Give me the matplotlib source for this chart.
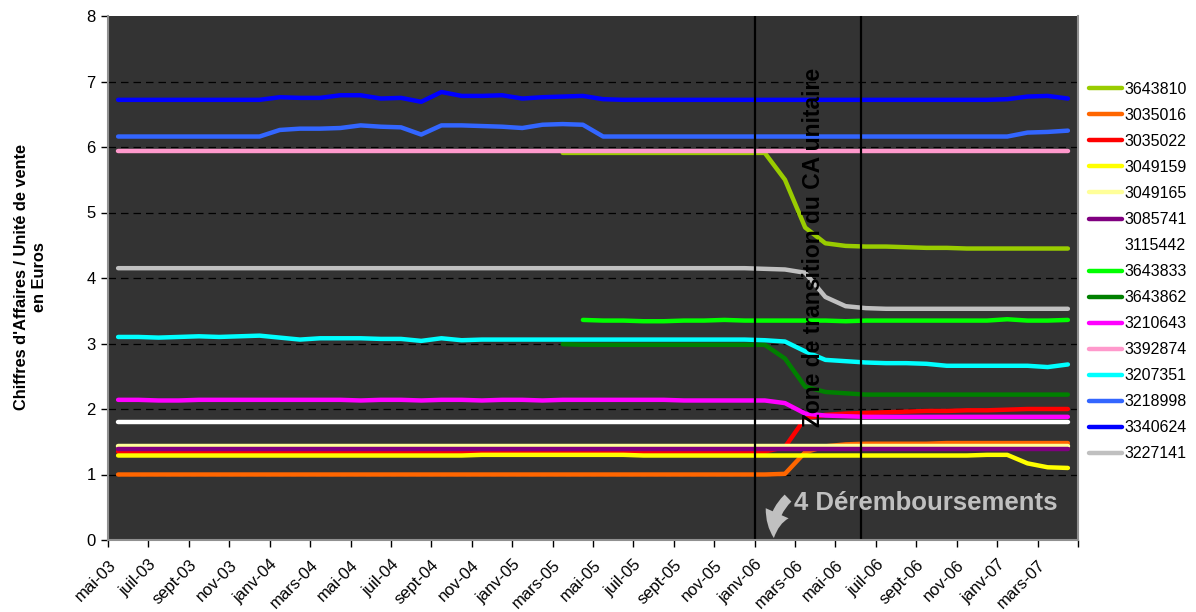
import numpy as np
import matplotlib.pyplot as plt
from matplotlib.ticker import FixedLocator, NullFormatter
from matplotlib.transforms import ScaledTranslation

plt.rcParams['font.family'] = ['Liberation Sans', 'DejaVu Sans']

# 48 mois, de mai-03 a avr-07 ; une etiquette sur deux
nb_mois = 48
etiquettes = ['mai-03', 'juil-03', 'sept-03', 'nov-03', 'janv-04', 'mars-04',
              'mai-04', 'juil-04', 'sept-04', 'nov-04', 'janv-05', 'mars-05',
              'mai-05', 'juil-05', 'sept-05', 'nov-05', 'janv-06', 'mars-06',
              'mai-06', 'juil-06', 'sept-06', 'nov-06', 'janv-07', 'mars-07']

cip = ['3643810', '3035016', '3035022', '3049159', '3049165', '3085741',
       '3115442', '3643833', '3643862', '3210643', '3392874', '3207351',
       '3218998', '3340624', '3227141']

couleurs = ['#99CC00', '#FF6600', '#FF0000', '#FFFF00', '#FFFF99', '#800080',
            '#FFFFFF', '#00FF00', '#008000', '#FF00FF', '#FF99CC', '#00FFFF',
            '#3366FF', '#0000FF', '#C0C0C0']

v_3643810 = [None, None, None, None, None, None, None, None, None, None, None, None,
             None, None, None, None, None, None, None, None, None, None, 5.91, 5.91,
             5.91, 5.91, 5.91, 5.91, 5.91, 5.91, 5.91, 5.91, 5.91, 5.50, 4.77, 4.53,
             4.49, 4.48, 4.48, 4.47, 4.46, 4.46, 4.45, 4.45, 4.45, 4.45, 4.45, 4.45]
v_3035016 = [1.00, 1.00, 1.00, 1.00, 1.00, 1.00, 1.00, 1.00, 1.00, 1.00, 1.00, 1.00,
             1.00, 1.00, 1.00, 1.00, 1.00, 1.00, 1.00, 1.00, 1.00, 1.00, 1.00, 1.00,
             1.00, 1.00, 1.00, 1.00, 1.00, 1.00, 1.00, 1.00, 1.00, 1.01, 1.34, 1.43,
             1.46, 1.47, 1.47, 1.47, 1.47, 1.48, 1.48, 1.48, 1.48, 1.48, 1.48, 1.48]
v_3035022 = [1.35, 1.35, 1.35, 1.35, 1.35, 1.35, 1.35, 1.35, 1.35, 1.35, 1.35, 1.35,
             1.35, 1.35, 1.35, 1.35, 1.35, 1.35, 1.35, 1.35, 1.35, 1.35, 1.35, 1.35,
             1.35, 1.35, 1.35, 1.35, 1.35, 1.35, 1.35, 1.35, 1.35, 1.42, 1.86, 1.91,
             1.93, 1.94, 1.95, 1.96, 1.97, 1.97, 1.98, 1.98, 1.99, 2.00, 2.00, 2.00]
v_3049159 = [1.29, 1.29, 1.29, 1.29, 1.29, 1.29, 1.29, 1.29, 1.29, 1.29, 1.29, 1.29,
             1.29, 1.29, 1.29, 1.29, 1.29, 1.29, 1.30, 1.30, 1.30, 1.30, 1.30, 1.30,
             1.30, 1.30, 1.29, 1.29, 1.29, 1.29, 1.29, 1.29, 1.29, 1.29, 1.29, 1.29,
             1.29, 1.29, 1.29, 1.29, 1.29, 1.29, 1.29, 1.30, 1.30, 1.17, 1.11, 1.10]
v_3049165 = [1.44, 1.44, 1.44, 1.44, 1.44, 1.44, 1.44, 1.44, 1.44, 1.44, 1.44, 1.44,
             1.44, 1.44, 1.44, 1.44, 1.44, 1.44, 1.44, 1.44, 1.44, 1.44, 1.44, 1.44,
             1.44, 1.44, 1.44, 1.44, 1.44, 1.44, 1.44, 1.44, 1.44, 1.44, 1.44, 1.44,
             1.44, 1.44, 1.44, 1.44, 1.44, 1.44, 1.44, 1.44, 1.44, 1.44, 1.44, 1.44]
v_3085741 = [1.39, 1.39, 1.39, 1.39, 1.39, 1.39, 1.39, 1.39, 1.39, 1.39, 1.39, 1.39,
             1.39, 1.39, 1.39, 1.39, 1.39, 1.39, 1.39, 1.39, 1.39, 1.39, 1.39, 1.39,
             1.39, 1.39, 1.39, 1.39, 1.39, 1.39, 1.39, 1.39, 1.39, 1.39, 1.39, 1.39,
             1.39, 1.39, 1.39, 1.39, 1.39, 1.39, 1.39, 1.39, 1.39, 1.39, 1.39, 1.39]
v_3115442 = [1.80, 1.80, 1.80, 1.80, 1.80, 1.80, 1.80, 1.80, 1.80, 1.80, 1.80, 1.80,
             1.80, 1.80, 1.80, 1.80, 1.80, 1.80, 1.80, 1.80, 1.80, 1.80, 1.80, 1.80,
             1.80, 1.80, 1.80, 1.80, 1.80, 1.80, 1.80, 1.80, 1.80, 1.80, 1.80, 1.80,
             1.80, 1.80, 1.80, 1.80, 1.80, 1.80, 1.80, 1.80, 1.80, 1.80, 1.80, 1.80]
v_3643833 = [None, None, None, None, None, None, None, None, None, None, None, None,
             None, None, None, None, None, None, None, None, None, None, None, 3.36,
             3.35, 3.35, 3.34, 3.34, 3.35, 3.35, 3.36, 3.35, 3.35, 3.35, 3.35, 3.35,
             3.34, 3.35, 3.35, 3.35, 3.35, 3.35, 3.35, 3.35, 3.37, 3.35, 3.35, 3.36]
v_3643862 = [None, None, None, None, None, None, None, None, None, None, None, None,
             None, None, None, None, None, None, None, None, None, None, 2.99, 2.98,
             2.98, 2.98, 2.98, 2.98, 2.98, 2.98, 2.98, 2.98, 2.98, 2.77, 2.34, 2.26,
             2.24, 2.22, 2.22, 2.22, 2.22, 2.22, 2.22, 2.22, 2.22, 2.22, 2.22, 2.22]
v_3210643 = [2.14, 2.14, 2.13, 2.13, 2.14, 2.14, 2.14, 2.14, 2.14, 2.14, 2.14, 2.14,
             2.13, 2.14, 2.14, 2.13, 2.14, 2.14, 2.13, 2.14, 2.14, 2.13, 2.14, 2.14,
             2.14, 2.14, 2.14, 2.14, 2.13, 2.13, 2.13, 2.13, 2.13, 2.09, 1.93, 1.90,
             1.89, 1.88, 1.88, 1.88, 1.88, 1.88, 1.88, 1.88, 1.88, 1.88, 1.88, 1.88]
v_3392874 = [5.94, 5.94, 5.94, 5.94, 5.94, 5.94, 5.94, 5.94, 5.94, 5.94, 5.94, 5.94,
             5.94, 5.94, 5.94, 5.94, 5.94, 5.94, 5.94, 5.94, 5.94, 5.94, 5.94, 5.94,
             5.94, 5.94, 5.94, 5.94, 5.94, 5.94, 5.94, 5.94, 5.94, 5.94, 5.94, 5.94,
             5.94, 5.94, 5.94, 5.94, 5.94, 5.94, 5.94, 5.94, 5.94, 5.94, 5.94, 5.94]
v_3207351 = [3.10, 3.10, 3.09, 3.10, 3.11, 3.10, 3.11, 3.12, 3.09, 3.06, 3.08, 3.08,
             3.08, 3.07, 3.07, 3.04, 3.08, 3.05, 3.06, 3.06, 3.06, 3.06, 3.06, 3.06,
             3.06, 3.06, 3.06, 3.06, 3.06, 3.06, 3.06, 3.06, 3.05, 3.03, 2.88, 2.75,
             2.73, 2.71, 2.70, 2.70, 2.69, 2.66, 2.66, 2.66, 2.66, 2.66, 2.64, 2.68]
v_3218998 = [6.16, 6.16, 6.16, 6.16, 6.16, 6.16, 6.16, 6.16, 6.26, 6.28, 6.28, 6.29,
             6.33, 6.31, 6.30, 6.19, 6.33, 6.33, 6.32, 6.31, 6.29, 6.34, 6.35, 6.34,
             6.16, 6.16, 6.16, 6.16, 6.16, 6.16, 6.16, 6.16, 6.16, 6.16, 6.16, 6.16,
             6.16, 6.16, 6.16, 6.16, 6.16, 6.16, 6.16, 6.16, 6.16, 6.22, 6.23, 6.25]
v_3340624 = [6.72, 6.72, 6.72, 6.72, 6.72, 6.72, 6.72, 6.72, 6.76, 6.75, 6.75, 6.79,
             6.79, 6.74, 6.75, 6.69, 6.84, 6.78, 6.78, 6.79, 6.74, 6.76, 6.77, 6.78,
             6.73, 6.72, 6.72, 6.72, 6.72, 6.72, 6.72, 6.72, 6.72, 6.72, 6.72, 6.72,
             6.72, 6.72, 6.72, 6.72, 6.72, 6.72, 6.72, 6.72, 6.73, 6.77, 6.78, 6.74]
v_3227141 = [4.15, 4.15, 4.15, 4.15, 4.15, 4.15, 4.15, 4.15, 4.15, 4.15, 4.15, 4.15,
             4.15, 4.15, 4.15, 4.15, 4.15, 4.15, 4.15, 4.15, 4.15, 4.15, 4.15, 4.15,
             4.15, 4.15, 4.15, 4.15, 4.15, 4.15, 4.15, 4.15, 4.14, 4.13, 4.08, 3.71,
             3.57, 3.54, 3.53, 3.53, 3.53, 3.53, 3.53, 3.53, 3.53, 3.53, 3.53, 3.53]

series = [v_3643810, v_3035016, v_3035022, v_3049159, v_3049165, v_3085741,
          v_3115442, v_3643833, v_3643862, v_3210643, v_3392874, v_3207351,
          v_3218998, v_3340624, v_3227141]

# bornes de la zone de transition (en mois depuis mai-03)
debut_zone, fin_zone = 31.5, 36.76

fig = plt.figure(figsize=(11.96, 6.12), dpi=100)
ax = fig.add_axes([108 / 1196, 1 - 540 / 612, 970 / 1196, 524 / 612])
ax.set_facecolor('#333333')

x = np.arange(nb_mois)
for nom, vals, c in zip(cip, series, couleurs):
    ax.plot(x, np.array(vals, dtype=float), color=c, lw=3.2, label=nom,
            solid_capstyle='round', solid_joinstyle='round')

for y in range(1, 8):
    ax.axhline(y, color='black', lw=0.9, ls=(0, (6, 4)), zorder=0.5)

ax.axvline(debut_zone, color='black', lw=1.6)
ax.axvline(fin_zone, color='black', lw=1.6)

ax.set_xlim(-0.5, nb_mois - 0.5)
ax.set_ylim(0, 8)

ax.xaxis.set_major_locator(FixedLocator(np.arange(-0.5, nb_mois, 2)))
ax.xaxis.set_major_formatter(NullFormatter())
ax.xaxis.set_minor_locator(FixedLocator(np.arange(0, nb_mois, 2)))
ax.tick_params(axis='x', which='minor', length=0, pad=8)
ax.tick_params(axis='x', which='major', length=5, width=1, color='black')
ax.set_yticks(range(0, 9))
ax.tick_params(axis='y', length=5, width=1, color='black', labelsize=12, pad=4)

ax.set_xticklabels(etiquettes, minor=True, rotation=45, ha='right',
                   rotation_mode='anchor', fontsize=12)
# petites etiquettes decalees vers le bas et la gauche
decalage = ScaledTranslation(-10 / 100, -6 / 100, fig.dpi_scale_trans)
for lab in ax.get_xticklabels(minor=True):
    lab.set_transform(lab.get_transform() + decalage)

ax.spines['top'].set_visible(False)
for s in ['left', 'bottom', 'right']:
    ax.spines[s].set_color('#909090')
    ax.spines[s].set_linewidth(1.5)

fig.text(0.0255, 0.5466, "Chiffres d'Affaires / Unité de vente\nen Euros",
         rotation=90, ha='center', va='center', multialignment='center',
         fontsize=11.8, fontweight='bold', linespacing=1.25)

ax.text(34.4, 4.47, 'Zone de transition du CA unitaire', rotation=90,
        ha='center', va='center', fontsize=16.5, fontweight='bold', color='black')

ax.text(33.45, 0.56, '4 Déremboursements', ha='left', va='center',
        fontsize=18.5, fontweight='bold', color='#C0C0C0')
ax.annotate('', xy=(32.45, 0.03), xytext=(33.15, 0.64),
            arrowprops=dict(arrowstyle='simple,head_width=0.9,head_length=0.9,tail_width=0.35',
                            connectionstyle='arc3,rad=0.25', color='#C0C0C0', lw=0,
                            mutation_scale=20, shrinkA=0, shrinkB=0))

ax.legend(loc='upper left', bbox_to_anchor=(1089 / 1196, 1 - 82 / 612),
          bbox_transform=fig.transFigure, frameon=False, fontsize=11.5,
          handlelength=2.05, handletextpad=0.2, labelspacing=0.69,
          borderpad=0, borderaxespad=0)

fig.savefig('out.png', dpi=100)
